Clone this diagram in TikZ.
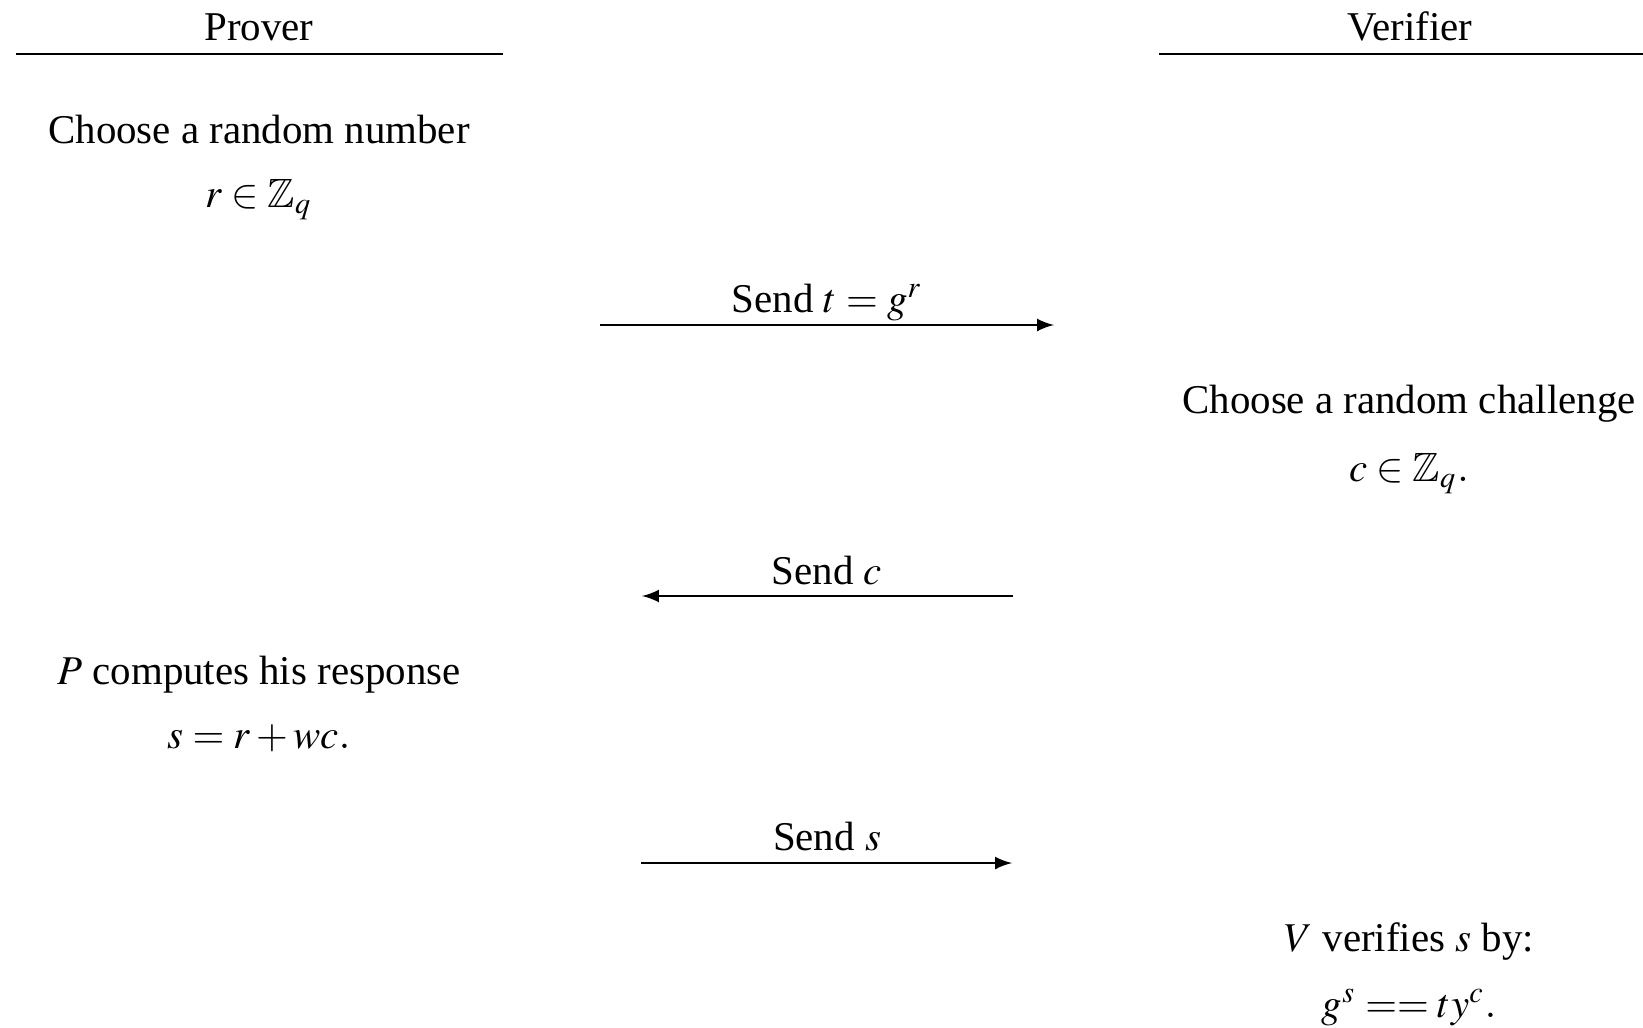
\documentclass[tikz,border=0pt]{standalone}
\usepackage{amssymb}
\usepackage{mathptmx}
\usepackage{fontspec}
\setmainfont{Liberation Serif}
\begin{document}
\begin{tikzpicture}[x=0.2445pt,y=-0.2445pt,
  txt/.style={inner sep=0pt,anchor=base,font=\fontsize{10pt}{12pt}\selectfont},
  msg/.style={-latex,line width=0.45pt},
  rule/.style={line width=0.45pt}]
\useasboundingbox (0,0) rectangle (1643,1027);
% headers
\node[txt] (prover) at (259,41) {Prover};
\node[txt] (verifier) at (1410,41) {Verifier};
\coordinate (pl) at (16,54); \coordinate (pr) at (503,54);
\coordinate (vl) at (1159,54); \coordinate (vr) at (1643,54);
\draw[rule] (pl) -- (pr);
\draw[rule] (vl) -- (vr);
% prover step 1
\node[txt] (p1a) at (259,143) {Choose a random number};
\node[txt] (p1b) at (259,207) {$r\in\mathbb{Z}_q$};
% message 1
\node[txt] (m1) at (827,312) {Send $t=g^r$};
\coordinate (a1s) at (600,325); \coordinate (a1e) at (1054,325);
\draw[msg] (a1s) -- (a1e);
% verifier step
\node[txt] (v1a) at (1409,413) {Choose a random challenge};
\node[txt] (v1b) at (1409,481) {$c\in\mathbb{Z}_q.$};
% message 2
\node[txt] (m2) at (827,584) {Send $c$};
\coordinate (a2s) at (1013,596); \coordinate (a2e) at (642,596);
\draw[msg] (a2s) -- (a2e);
% prover step 2
\node[txt] (p2a) at (259,684) {$P$ computes his response};
\node[txt] (p2b) at (259,748) {$s=r+wc.$};
% message 3
\node[txt] (m3) at (827,850) {Send $s$};
\coordinate (a3s) at (641,863); \coordinate (a3e) at (1012,863);
\draw[msg] (a3s) -- (a3e);
% verifier check
\node[txt] (v2a) at (1409,951) {$V$ verifies $s$ by:};
\node[txt] (v2b) at (1409,1017) {$g^s==ty^c.$};
\end{tikzpicture}
\end{document}
